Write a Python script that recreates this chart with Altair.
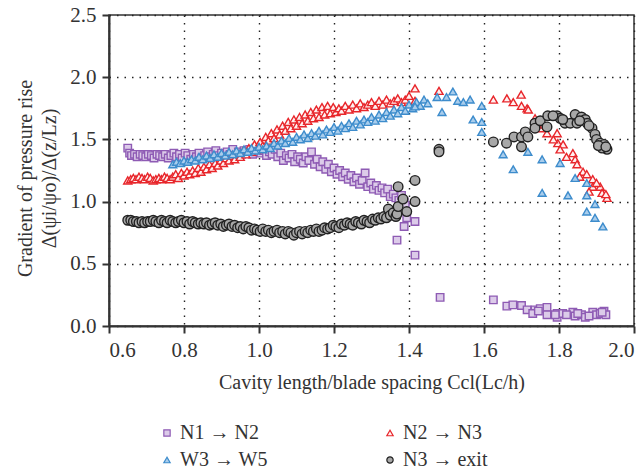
import altair as alt
import pandas as pd

series_names = ["N1 → N2", "N2 → N3", "W3 → W5", "N3 → exit"]

n1n2_x = [0.650,0.655,0.660,0.668,0.675,0.683,0.690,0.698,0.705,0.713,
          0.720,0.728,0.735,0.743,0.750,0.758,0.765,0.773,0.780,0.788,
          0.795,0.803,0.810,0.818,0.825,0.833,0.840,0.848,0.855,0.863,
          0.870,0.878,0.885,0.893,0.900,0.908,0.915,0.923,0.930,0.938,
          0.945,0.953,0.960,0.968,0.975,0.983,0.990,0.998,1.005,1.013,
          1.020,1.028,1.035,1.043,1.050,1.058,1.065,1.073,1.080,1.088,
          1.095,1.103,1.110,1.118,1.125,1.133,1.140,1.148,1.155,1.163,
          1.170,1.178,1.185,1.193,1.200,1.208,1.215,1.223,1.230,1.238,
          1.245,1.253,1.260,1.268,1.275,1.283,1.290,1.298,1.305,1.313,
          1.320,1.328,1.335,1.343,1.350,1.358,1.365,1.373,1.380,1.387,
          1.390,1.368,1.387,1.394,1.416,1.416,1.483,1.625,1.661,1.677,
          1.700,1.715,1.736,1.750,1.768,1.768,1.795,1.795,1.810,1.837,
          1.843,1.860,1.870,1.890,1.900,1.910,1.920,1.925,1.730,1.790,
          1.850,1.880,1.915,1.745,1.820]
n1n2_y = [1.43,1.39,1.37,1.38,1.36,1.38,1.37,1.36,1.38,1.37,
          1.35,1.38,1.37,1.36,1.38,1.35,1.37,1.39,1.36,1.38,
          1.35,1.39,1.37,1.34,1.38,1.36,1.39,1.35,1.37,1.40,
          1.36,1.38,1.41,1.37,1.39,1.36,1.40,1.38,1.42,1.37,
          1.40,1.38,1.41,1.39,1.42,1.38,1.40,1.43,1.39,1.41,
          1.37,1.40,1.38,1.42,1.36,1.39,1.33,1.37,1.35,1.38,
          1.32,1.36,1.34,1.31,1.36,1.33,1.40,1.30,1.34,1.28,
          1.32,1.26,1.30,1.24,1.27,1.22,1.25,1.20,1.23,1.18,
          1.21,1.16,1.19,1.14,1.17,1.23,1.12,1.15,1.10,1.13,
          1.09,1.11,1.07,1.10,1.04,1.06,1.03,1.01,1.05,1.00,
          0.97,0.69,0.80,0.87,0.84,0.57,0.23,0.21,0.16,0.17,
          0.165,0.13,0.13,0.14,0.15,0.09,0.10,0.07,0.10,0.11,
          0.08,0.09,0.07,0.11,0.09,0.10,0.12,0.09,0.10,0.09,
          0.10,0.08,0.11,0.12,0.09]

n2n3_x = [0.650,0.658,0.665,0.672,0.680,0.688,0.695,0.703,0.710,0.718,
          0.725,0.733,0.740,0.748,0.755,0.763,0.770,0.778,0.785,0.793,
          0.800,0.808,0.815,0.823,0.830,0.838,0.845,0.853,0.860,0.868,
          0.875,0.883,0.890,0.898,0.905,0.913,0.920,0.928,0.935,0.943,
          0.950,0.958,0.965,0.973,0.980,0.988,0.995,1.003,1.010,1.018,
          1.025,1.033,1.040,1.048,1.055,1.063,1.070,1.078,1.085,1.093,
          1.100,1.108,1.115,1.123,1.130,1.138,1.145,1.153,1.160,1.168,
          1.175,1.183,1.190,1.198,1.205,1.213,1.220,1.230,1.240,1.250,
          1.260,1.270,1.280,1.290,1.300,1.310,1.320,1.330,1.340,1.350,
          1.360,1.370,1.380,1.390,1.400,1.416,1.416,1.480,1.625,1.661,
          1.678,1.699,1.700,1.715,1.718,1.736,1.750,1.768,1.795,1.797,
          1.811,1.803,1.837,1.843,1.848,1.864,1.874,1.890,1.890,1.910,
          1.915,1.928,1.880,1.760,1.785,1.820,1.855,1.900,1.925]
n2n3_y = [1.17,1.18,1.19,1.18,1.20,1.19,1.18,1.20,1.19,1.17,
          1.18,1.19,1.18,1.20,1.19,1.18,1.20,1.22,1.19,1.23,
          1.21,1.24,1.22,1.25,1.23,1.27,1.24,1.28,1.26,1.30,
          1.27,1.31,1.29,1.33,1.31,1.35,1.33,1.37,1.34,1.39,
          1.36,1.41,1.38,1.43,1.40,1.46,1.42,1.48,1.45,1.52,
          1.49,1.55,1.51,1.58,1.54,1.61,1.57,1.64,1.59,1.66,
          1.61,1.68,1.63,1.70,1.65,1.72,1.67,1.74,1.68,1.76,
          1.70,1.77,1.71,1.76,1.72,1.75,1.73,1.77,1.74,1.78,
          1.75,1.79,1.76,1.78,1.80,1.77,1.81,1.78,1.82,1.79,
          1.81,1.83,1.80,1.82,1.85,1.91,1.81,1.89,1.82,1.83,
          1.80,1.86,1.77,1.75,1.74,1.67,1.59,1.55,1.55,1.47,
          1.46,1.42,1.39,1.34,1.30,1.24,1.22,1.18,1.12,1.12,
          1.07,1.03,1.08,1.62,1.50,1.36,1.20,1.15,1.06]

w3w5_x = [0.770,0.780,0.790,0.800,0.810,0.820,0.830,0.840,0.850,0.860,
          0.870,0.880,0.890,0.900,0.910,0.920,0.930,0.940,0.950,0.960,
          0.970,0.980,0.990,1.000,1.010,1.020,1.030,1.040,1.050,1.060,
          1.070,1.080,1.090,1.100,1.110,1.120,1.130,1.140,1.150,1.160,
          1.170,1.180,1.190,1.200,1.210,1.220,1.230,1.240,1.250,1.260,
          1.270,1.280,1.290,1.300,1.310,1.320,1.330,1.340,1.350,1.360,
          1.370,1.380,1.390,1.400,1.410,1.420,1.430,1.440,1.450,1.416,
          1.475,1.488,1.500,1.517,1.530,1.545,1.563,1.594,1.571,1.594,
          1.594,1.651,1.678,1.717,1.755,1.755,1.803,1.824,1.843,1.874,
          1.874,1.896,1.896,1.917,1.874]
w3w5_y = [1.30,1.32,1.31,1.33,1.32,1.34,1.33,1.36,1.34,1.37,
          1.35,1.38,1.36,1.39,1.37,1.40,1.38,1.41,1.39,1.42,
          1.40,1.43,1.41,1.44,1.42,1.45,1.43,1.47,1.45,1.49,
          1.47,1.51,1.48,1.52,1.50,1.54,1.51,1.55,1.53,1.57,
          1.54,1.58,1.56,1.60,1.57,1.61,1.59,1.63,1.60,1.65,
          1.62,1.66,1.64,1.68,1.65,1.70,1.67,1.72,1.69,1.74,
          1.71,1.76,1.73,1.78,1.75,1.80,1.77,1.82,1.79,1.765,
          1.84,1.72,1.84,1.885,1.81,1.80,1.82,1.77,1.66,1.64,
          1.56,1.38,1.26,1.40,1.34,1.07,1.31,1.05,1.19,1.05,
          0.92,0.98,0.87,0.80,1.15]

n3exit_x = [0.650,0.658,0.665,0.673,0.680,0.688,0.695,0.703,0.710,0.718,
            0.725,0.733,0.740,0.748,0.755,0.763,0.770,0.778,0.785,0.793,
            0.800,0.808,0.815,0.823,0.830,0.838,0.845,0.853,0.860,0.868,
            0.875,0.883,0.890,0.898,0.905,0.913,0.920,0.928,0.935,0.943,
            0.950,0.958,0.965,0.973,0.980,0.988,0.995,1.003,1.010,1.018,
            1.025,1.033,1.040,1.048,1.055,1.063,1.070,1.078,1.085,1.093,
            1.100,1.108,1.115,1.123,1.130,1.138,1.145,1.153,1.160,1.168,
            1.175,1.183,1.190,1.198,1.205,1.213,1.220,1.228,1.235,1.243,
            1.250,1.258,1.265,1.273,1.280,1.288,1.295,1.303,1.310,1.318,
            1.325,1.333,1.340,1.345,1.350,1.358,1.365,1.368,1.371,1.371,
            1.384,1.394,1.416,1.416,1.480,1.480,1.625,1.660,1.680,1.700,
            1.700,1.710,1.717,1.736,1.736,1.750,1.770,1.768,1.795,1.803,
            1.816,1.830,1.843,1.848,1.860,1.870,1.875,1.888,1.896,1.900,
            1.910,1.920,1.928,1.915,1.784,1.810,1.855,1.880,1.905,1.925]
n3exit_y = [0.85,0.85,0.84,0.84,0.83,0.84,0.83,0.84,0.84,0.85,
            0.84,0.83,0.85,0.84,0.83,0.85,0.84,0.83,0.84,0.85,
            0.83,0.84,0.82,0.84,0.83,0.82,0.83,0.82,0.83,0.81,
            0.82,0.83,0.81,0.82,0.80,0.81,0.82,0.80,0.81,0.79,
            0.80,0.78,0.80,0.79,0.77,0.78,0.77,0.76,0.78,0.76,
            0.77,0.75,0.76,0.77,0.75,0.76,0.74,0.76,0.75,0.73,
            0.75,0.76,0.74,0.76,0.75,0.77,0.76,0.78,0.76,0.77,
            0.79,0.78,0.79,0.81,0.80,0.79,0.82,0.81,0.83,0.82,
            0.81,0.84,0.83,0.82,0.85,0.84,0.83,0.86,0.85,0.87,
            0.86,0.88,0.87,0.94,0.89,0.91,0.88,0.90,0.96,1.12,
            1.02,0.92,1.00,1.17,1.42,1.40,1.48,1.47,1.52,1.44,
            1.52,1.56,1.52,1.63,1.59,1.65,1.69,1.60,1.69,1.67,
            1.63,1.63,1.70,1.63,1.68,1.66,1.63,1.59,1.54,1.50,
            1.47,1.46,1.42,1.43,1.69,1.66,1.65,1.61,1.45,1.44]

x_ticks = [0.6, 0.8, 1.0, 1.2, 1.4, 1.6, 1.8, 2.0]
y_ticks = [0.0, 0.5, 1.0, 1.5, 2.0, 2.5]

stroke_colors = ["#8e5bb4", "#e8262b", "#3d8ccc", "#222222"]
fill_colors = ["#dccbe9", "#fff0f0", "#a9cdec", "#a8a8a8"]
shapes = ["square", "triangle-up", "triangle-up", "circle"]

frames = []
for name, xs, ys in [(series_names[0], n1n2_x, n1n2_y),
                     (series_names[1], n2n3_x, n2n3_y),
                     (series_names[2], w3w5_x, w3w5_y),
                     (series_names[3], n3exit_x, n3exit_y)]:
    frames.append(pd.DataFrame({"x": xs, "y": ys, "series": name}))
df = pd.concat(frames, ignore_index=True)
df["size"] = df["series"].map({series_names[0]: 56, series_names[1]: 66,
                               series_names[2]: 62, series_names[3]: 92})

FONT = "Liberation Serif"

chart = alt.Chart(df).mark_point(filled=False, strokeWidth=1.4, opacity=1).encode(
    x=alt.X("x:Q", scale=alt.Scale(domain=[0.6, 2.0], nice=False, zero=False),
            axis=alt.Axis(values=x_ticks, format=".1f",
                          title="Cavity length/blade spacing Ccl(Lc/h)")),
    y=alt.Y("y:Q", scale=alt.Scale(domain=[0, 2.5], nice=False),
            axis=alt.Axis(values=y_ticks, format=".1f", titleY=163,
                          title=["Gradient of pressure rise", "Δ(ψi/ψo)/Δ(z/Lz)"])),
    color=alt.Color("series:N", scale=alt.Scale(domain=series_names, range=stroke_colors),
                    title=None),
    fill=alt.Fill("series:N", scale=alt.Scale(domain=series_names, range=fill_colors),
                  title=None),
    shape=alt.Shape("series:N", scale=alt.Scale(domain=series_names, range=shapes),
                    title=None),
    size=alt.Size("size:Q", scale=None, legend=None),
).properties(
    width=525, height=311,
    autosize=alt.AutoSizeParams(type="none"),
    padding={"left": 109, "top": 15, "right": 9, "bottom": 147},
).configure_view(
    stroke="#333333", strokeWidth=1.5
).configure_axis(
    labelFont=FONT, titleFont=FONT, labelFontSize=21, titleFontSize=20,
    labelColor="#333333", titleColor="#333333", titleFontWeight="normal",
    domainColor="#333333", domainWidth=2, tickColor="#333333", tickWidth=2,
    tickSize=7, labelPadding=6,
    grid=True, gridColor="#222222", gridDash=[1.5, 6], gridWidth=1.4,
).configure_axisX(
    titlePadding=12
).configure_axisY(
    titlePadding=10, titleLineHeight=24
).configure_legend(
    orient="none", legendX=48, legendY=408, direction="horizontal", columns=2,
    labelFont=FONT, labelFontSize=20, labelColor="#333333",
    symbolSize=40, symbolStrokeWidth=1.2, columnPadding=112, rowPadding=7,
    labelOffset=3,
)

chart.save("out.html", embed_options={"renderer": "svg", "actions": False})
